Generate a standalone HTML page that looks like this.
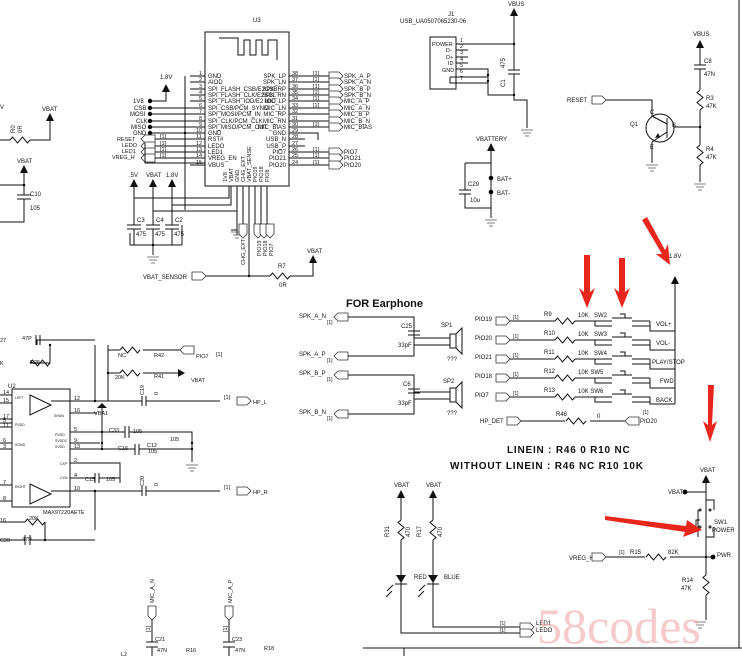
<!DOCTYPE html>
<html><head><meta charset="utf-8"><style>
html,body{margin:0;padding:0;background:#fff;}
svg{display:block;font-family:"Liberation Sans",sans-serif;font-size:6px;}
text{fill:#111;}
.l{stroke:#111;stroke-width:1;fill:none;}
.t{stroke:#333;stroke-width:.8;fill:#fff;}
.b{font-size:11px;font-weight:bold;}
.ar{fill:#e8261c;}
</style></head><body>
<svg width="742" height="656" viewBox="0 0 742 656" xmlns="http://www.w3.org/2000/svg">
<defs>
<path id="arr" d="M0 0 L-4 8 L4 8 Z" fill="#111"/>
<path id="gnd" d="M-6 0 H6 M-4 3 H4 M-2 6 H2" stroke="#555" stroke-width=".8" fill="none"/>
<path id="rh" d="M0 0 l2.5 -3 l5 6 l5 -6 l5 6 l2.5 -3" stroke="#111" fill="none"/>
<path id="rv" d="M0 0 l-3 2.5 l6 5 l-6 5 l6 5 l-3 2.5" stroke="#111" fill="none"/>
<path id="tagr" d="M0 -4 H10 L14 0 L10 4 H0 Z" class="t"/>
<path id="tagl" d="M14 -4 H4 L0 0 L4 4 H14 Z" class="t"/>
<path id="tagd" d="M-4 0 V10 L0 14 L4 10 V0 Z" class="t"/>
</defs>

<!-- top-left fragment -->
<text x="0" y="109">V</text>
<text x="42" y="111">VBAT</text><use href="#arr" x="50" y="113"/>
<path class="l" d="M0 140 H10 M30 140 H50 V121"/><use href="#rh" x="10" y="140"/>
<text x="15" y="133" transform="rotate(-90 15 133)">R0</text>
<text x="22" y="133" transform="rotate(-90 22 133)">0R</text>
<text x="17" y="163">VBAT</text><use href="#arr" x="24" y="165"/>
<path class="l" d="M24 173 V195 M17 195 H31 M17 199 H31 M24 199 V222 H0 M0 185 H24"/>
<circle cx="24" cy="185" r="1.3"/>
<text x="30" y="196">C10</text><text x="30" y="210">105</text>

<!-- U3 -->
<text x="253" y="22">U3</text>
<rect x="205" y="32" width="84" height="154" class="l"/>
<path class="l" d="M219 38 H238 V55 H244 V40 H250 V55 H256 V40 H262 V55 H268 V40 H277 V60"/>
<g>
<text x="208" y="78">GND</text><text x="208" y="84">AIOD</text>
<text x="208" y="91">SPI_FLASH_CSB/E2CSB</text><text x="208" y="97">SPI_FLASH_CLK/E2SCL</text>
<text x="208" y="103">SPI_FLASH_IOD/E2 IOD</text><text x="208" y="110">SPI_CSB/PCM_SYNC</text>
<text x="208" y="116">SPI_MOSI/PCM_IN</text><text x="208" y="123">SPI_CLK/PCM_CLK</text>
<text x="208" y="129">SPI_MISO/PCM_OUT</text><text x="208" y="135">GND</text>
<text x="208" y="141">RST#</text><text x="208" y="148">LEDO</text><text x="208" y="154">LED1</text>
<text x="208" y="160">VREG_EN</text><text x="208" y="167">VBUS</text>
<g text-anchor="end">
<text x="286" y="78">SPK_LP</text><text x="286" y="84">SPK_LN</text><text x="286" y="91">SPK_RP</text>
<text x="286" y="97">SPK_RN</text><text x="286" y="103">MIC_LP</text><text x="286" y="110">MIC_LN</text>
<text x="286" y="116">MIC_RP</text><text x="286" y="123">MIC_RN</text><text x="286" y="129">MIC_BIAS</text>
<text x="286" y="135">GND</text><text x="286" y="141">USB_N</text><text x="286" y="148">USB_P</text>
<text x="286" y="154">PIO7</text><text x="286" y="160">PIO21</text><text x="286" y="167">PIO20</text>
</g>
</g>
<path class="l" d="M190 76H205 M190 82H205 M190 89H205 M190 95H205 M190 101H205 M150 108H205 M150 114H205 M150 121H205 M150 127H205 M150 133H205 M190 139H205 M190 146H205 M190 152H205 M190 158H205 M190 165H205"/>
<g font-size="5.5"><text x="199" y="75">1</text><text x="199" y="81">2</text><text x="199" y="88">3</text><text x="199" y="94">4</text><text x="199" y="100">5</text><text x="199" y="107">6</text><text x="199" y="113">7</text><text x="199" y="120">8</text><text x="199" y="126">9</text><text x="196" y="132">10</text><text x="196" y="138">11</text><text x="196" y="145">12</text><text x="196" y="151">13</text><text x="196" y="157">14</text><text x="196" y="164">15</text></g>
<path class="l" d="M289 76H305 M289 82H305 M289 89H305 M289 95H305 M289 101H305 M289 108H305 M289 114H305 M289 121H305 M289 127H305 M289 133H305 M289 139H305 M289 146H305 M289 152H305 M289 158H305 M289 165H305"/>
<g font-size="5.5"><text x="292" y="75">38</text><text x="292" y="81">37</text><text x="292" y="88">36</text><text x="292" y="94">35</text><text x="292" y="100">34</text><text x="292" y="107">33</text><text x="292" y="113">32</text><text x="292" y="120">31</text><text x="292" y="126">30</text><text x="292" y="132">29</text><text x="292" y="138">28</text><text x="292" y="145">27</text><text x="292" y="151">26</text><text x="292" y="157">25</text><text x="292" y="164">24</text></g>
<path class="l" d="M305 76H330 M305 82H330 M305 89H330 M305 95H330 M305 101H330 M305 108H330 M305 114H330 M305 121H330 M305 127H330 M305 152H330 M305 158H330 M305 165H330 M305 133H318 V140"/>
<g font-size="5.5"><text x="313" y="75">[1]</text><text x="313" y="81">[1]</text><text x="313" y="88">[1]</text><text x="313" y="94">[1]</text><text x="313" y="100">[1]</text><text x="313" y="107">[1]</text><text x="313" y="126">[1]</text><text x="313" y="151">[1]</text><text x="313" y="157">[1]</text><text x="313" y="164">[1]</text></g>
<use href="#tagr" x="329" y="76"/><use href="#tagr" x="329" y="82"/><use href="#tagr" x="329" y="89"/><use href="#tagr" x="329" y="95"/><use href="#tagr" x="329" y="101"/><use href="#tagr" x="329" y="108"/><use href="#tagr" x="329" y="114"/><use href="#tagr" x="329" y="121"/><use href="#tagr" x="329" y="127"/><use href="#tagr" x="329" y="152"/><use href="#tagr" x="329" y="158"/><use href="#tagr" x="329" y="165"/>
<text x="344" y="78">SPK_A_P</text><text x="344" y="84">SPK_A_N</text><text x="344" y="91">SPK_B_P</text><text x="344" y="97">SPK_B_N</text><text x="344" y="103">MIC_A_P</text><text x="344" y="110">MIC_A_N</text><text x="344" y="116">MIC_B_P</text><text x="344" y="123">MIC_B_N</text><text x="344" y="129">MIC_BIAS</text>
<text x="344" y="154">PIO7</text><text x="344" y="160">PIO21</text><text x="344" y="167">PIO20</text>
<!-- left nets -->
<text x="160" y="79">1.8V</text><use href="#arr" x="166" y="84"/>
<path class="l" d="M166 92 V101 H150 M185 76 V210"/>
<circle cx="185" cy="133" r="1.2"/>
<g font-size="6"><text x="133" y="103">1V8</text><text x="134" y="110">CSB</text><text x="130" y="116">MOSI</text><text x="136" y="123">CLK</text><text x="131" y="129">MISO</text><text x="133" y="135">GND</text></g>
<circle cx="150" cy="101" r="2.2"/><circle cx="150" cy="108" r="2.2"/><circle cx="150" cy="114" r="2.2"/><circle cx="150" cy="121" r="2.2"/><circle cx="150" cy="127" r="2.2"/><circle cx="150" cy="133" r="2.2"/>
<g font-size="5.5"><text x="117" y="141">RESET</text><text x="122" y="147">LEDO</text><text x="122" y="153">LED1</text><text x="112" y="159">VREG_H</text></g>
<use href="#tagl" x="141" y="139"/><use href="#tagl" x="141" y="146"/><use href="#tagl" x="141" y="152"/><use href="#tagl" x="141" y="158"/>
<path class="l" d="M155 139H190 M155 146H190 M155 152H190 M155 158H190 M145 143 V163 H205"/>
<g font-size="5.5"><text x="160" y="138">[1]</text><text x="160" y="145">[1]</text><text x="160" y="151">[1]</text><text x="160" y="157">[1]</text></g>
<!-- caps -->
<text x="129" y="177">.5V</text><text x="146" y="177">VBAT</text><text x="166" y="177">1.8V</text>
<use href="#arr" x="134" y="179"/><use href="#arr" x="153" y="179"/><use href="#arr" x="172" y="179"/>
<path class="l" d="M134 187V225 M153 187V225 M172 187V225 M134 198H229 V186 M172 205H231V186 M153 211H237V186 M127 225H141 M146 225H160 M165 225H179 M127 229H141 M146 229H160 M165 229H179 M134 229V245 M153 229V255 M172 229V245 M130 245H182 M130 233V245 M182 225V245"/>
<text x="137" y="222">C3</text><text x="156" y="222">C4</text><text x="175" y="222">C2</text>
<text x="136" y="236">475</text><text x="155" y="236">475</text><text x="174" y="236">475</text>
<circle cx="153" cy="245" r="1.2"/><use href="#gnd" x="153" y="257"/>
<!-- bottom pins -->
<g font-size="5.5">
<text x="227" y="182" transform="rotate(-90 227 182)">1V8</text><text x="233" y="182" transform="rotate(-90 233 182)">VBAT</text><text x="239" y="182" transform="rotate(-90 239 182)">GND</text><text x="245" y="182" transform="rotate(-90 245 182)">CHG_EXT</text><text x="251" y="182" transform="rotate(-90 251 182)">VBAT_SENSE</text><text x="257" y="182" transform="rotate(-90 257 182)">PIO19</text><text x="263" y="182" transform="rotate(-90 263 182)">PIO18</text><text x="269" y="182" transform="rotate(-90 269 182)">PIO8</text>
</g>
<path class="l" d="M237 186V235 M243 186V230 M249 186V276 M255 186V225 M261 186V225 M267 186V225 M231 230 H237"/>
<use href="#gnd" x="237" y="232"/>
<use href="#tagd" x="243" y="224"/><use href="#tagd" x="258" y="224"/><use href="#tagd" x="264" y="224"/><use href="#tagd" x="270" y="224"/>
<g font-size="5.5"><text x="245" y="265" transform="rotate(-90 245 265)">CHG_EXT</text><text x="261" y="256" transform="rotate(-90 261 256)">PIO19</text><text x="267" y="256" transform="rotate(-90 267 256)">PIO18</text><text x="273" y="256" transform="rotate(-90 273 256)">PIO7</text></g>
<text x="143" y="279">VBAT_SENSOR</text><use href="#tagr" x="192" y="276"/>
<path class="l" d="M206 276H270 M290 276H313 V263"/><use href="#rh" x="270" y="276"/>
<circle cx="249" cy="276" r="1.2"/>
<text x="278" y="268">R7</text><text x="279" y="287">0R</text>
<text x="307" y="253">VBAT</text><use href="#arr" x="313" y="255"/>

<!-- USB J1 -->
<text x="448" y="16">J1</text><text x="400" y="23">USB_UA0507065230-06</text>
<rect x="430" y="37" width="26" height="52" class="l"/>
<g font-size="5.5"><text x="432" y="46">POWER</text><text x="446" y="52">D-</text><text x="446" y="59">D+</text><text x="448" y="65">ID</text><text x="442" y="72">GND</text></g>
<g font-size="5.5"><text x="460" y="42">1</text><text x="460" y="48">2</text><text x="460" y="54">3</text><text x="460" y="61">4</text><text x="460" y="67">5</text><text x="460" y="73">6</text><text x="460" y="80">7</text></g>
<path class="l" d="M456 44H514 M456 50H468 M456 57H468 M456 63H468 M456 69H488 V95 H514 M450 77H488 M450 77V83H488 V75 M514 12V70 M508 70H520 M508 74H520 M514 74V100 H527 V128"/>
<circle cx="514" cy="44" r="1.2"/><circle cx="514" cy="95" r="1.2"/><circle cx="488" cy="75" r="1.2"/><circle cx="488" cy="81" r="1.2"/>
<text x="508" y="6">VBUS</text><use href="#arr" x="514" y="8"/>
<text x="505" y="68" transform="rotate(-90 505 68)">475</text><text x="505" y="87" transform="rotate(-90 505 87)">C1</text>
<use href="#gnd" x="527" y="130"/>
<!-- battery -->
<text x="476" y="141">VBATTERY</text><use href="#arr" x="491" y="143"/>
<path class="l" d="M491 151V208 M465 163H491 M465 163V190 M459 190H471 M459 194H471 M465 194V208H491 M491 208V218"/>
<circle cx="491" cy="178" r="2.3"/><circle cx="491" cy="192" r="2.3"/>
<text x="497" y="181">BAT+</text><text x="497" y="195">BAT-</text>
<text x="468" y="186">C29</text><text x="470" y="202">10u</text>
<use href="#gnd" x="491" y="220"/>
<!-- Q1 -->
<text x="567" y="102">RESET</text><use href="#tagr" x="592" y="100"/>
<path class="l" d="M606 100H652 V116 M652 142V163 M674 127H700 M700 48V65 M694 65H706 M694 69H706 M700 69V90 M700 110V145 M700 165V182"/>
<use href="#rv" x="700" y="90"/><use href="#rv" x="700" y="145"/>
<circle cx="660" cy="128" r="14" class="l"/>
<path class="l" d="M667 118V138 M667 124L652 116 M667 132L652 142"/>
<path d="M655 138 L660 137 L658 133Z" fill="#111"/>
<text x="650" y="114">C</text><text x="650" y="149">E</text><text x="672" y="127">B</text><text x="630" y="126">Q1</text>
<text x="693" y="36">VBUS</text><use href="#arr" x="700" y="40"/>
<text x="704" y="63">C8</text><text x="704" y="76">47N</text><text x="706" y="100">R3</text><text x="706" y="108">47K</text><text x="706" y="151">R4</text><text x="706" y="159">47K</text>
<circle cx="700" cy="127" r="1.2"/>
<use href="#gnd" x="652" y="165"/><use href="#gnd" x="700" y="184"/>

<!-- border -->
<path class="l" d="M739 0V648 M363 648H742 M404 648V656"/>

<!-- earphone -->
<text x="346" y="307" class="b">FOR Earphone</text>
<text x="299" y="318">SPK_A_N</text><text x="327" y="324" font-size="5">[1]</text><use href="#tagl" x="334" y="317"/>
<text x="299" y="356">SPK_A_P</text><text x="327" y="362" font-size="5">[1]</text><use href="#tagl" x="334" y="356"/>
<text x="299" y="375">SPK_B_P</text><text x="327" y="381" font-size="5">[1]</text><use href="#tagl" x="334" y="375"/>
<text x="299" y="414">SPK_B_N</text><text x="327" y="420" font-size="5">[1]</text><use href="#tagl" x="334" y="414"/>
<path class="l" d="M348 317H414 V338H450 M348 356H414 V345H450 M414 317V331 M408 331H420 M408 335H420 M414 335V356 M348 375H414 V392H450 M348 414H414 V399H450 M414 375V389 M408 389H420 M408 393H420 M414 393V414"/>
<rect x="450" y="334" width="6" height="14" class="l"/><path class="l" d="M456 334 L462 328 V354 L456 348"/>
<rect x="450" y="388" width="6" height="14" class="l"/><path class="l" d="M456 388 L462 382 V408 L456 402"/>
<text x="401" y="328">C25</text><text x="398" y="347">33pF</text><text x="441" y="327">SP1</text><text x="447" y="361">???</text>
<text x="403" y="386">C6</text><text x="398" y="405">33pF</text><text x="443" y="383">SP2</text><text x="447" y="415">???</text>

<!-- buttons -->
<text x="669" y="258">1.8V</text><use href="#arr" x="675" y="276"/>
<g>
<text x="475" y="321">PIO19</text><use href="#tagr" x="496" y="321"/><text x="513" y="319" font-size="5">[1]</text><text x="544" y="316">R9</text><text x="578" y="317">10K</text><text x="594" y="317">SW2</text><text x="656" y="326">VOL+</text>
<text x="475" y="340">PIO20</text><use href="#tagr" x="496" y="340"/><text x="513" y="338" font-size="5">[1]</text><text x="544" y="335">R10</text><text x="578" y="336">10K</text><text x="594" y="336">SW3</text><text x="656" y="345">VOL-</text>
<text x="475" y="359">PIO21</text><use href="#tagr" x="496" y="359"/><text x="513" y="357" font-size="5">[1]</text><text x="544" y="354">R11</text><text x="578" y="355">10K</text><text x="594" y="355">SW4</text><text x="652" y="364">PLAY/STOP</text>
<text x="475" y="378">PIO18</text><use href="#tagr" x="496" y="378"/><text x="513" y="376" font-size="5">[1]</text><text x="544" y="373">R12</text><text x="578" y="374">10K SW5</text><text x="660" y="383">FWD</text>
<text x="475" y="397">PIO7</text><use href="#tagr" x="496" y="397"/><text x="513" y="395" font-size="5">[1]</text><text x="544" y="392">R13</text><text x="578" y="393">10K SW6</text><text x="656" y="402">BACK</text>
</g>
<path class="l" d="M510 321H555 M575 321H595 M510 340H555 M575 340H595 M510 359H555 M575 359H595 M510 378H555 M575 378H595 M510 397H555 M575 397H595"/>
<use href="#rh" x="555" y="321"/><use href="#rh" x="555" y="340"/><use href="#rh" x="555" y="359"/><use href="#rh" x="555" y="378"/><use href="#rh" x="555" y="397"/>
<g class="l" stroke-width=".8">
<path d="M595 321H612 M595 321V326H612 M632 321H650 M632 326H650 M650 321V331 H675 M612 318H632 M620 314H625V318"/>
<path d="M595 340H612 M595 340V345H612 M632 340H650 M632 345H650 M650 340V350 H675 M612 337H632 M620 333H625V337"/>
<path d="M595 359H612 M595 359V364H612 M632 359H650 M632 364H650 M650 359V369 H675 M612 356H632 M620 352H625V356"/>
<path d="M595 378H612 M595 378V383H612 M632 378H650 M632 383H650 M650 378V388 H675 M612 375H632 M620 371H625V375"/>
<path d="M595 397H612 M595 397V402H612 M632 397H650 M632 402H650 M650 397V404 H675"/>
<path d="M612 394H632 M620 390H625V394"/>
</g>
<path class="l" d="M675 284V404"/>
<text x="480" y="423">HP_DET</text><use href="#tagr" x="507" y="421"/>
<path class="l" d="M521 421H565 M590 421H625"/><use href="#rh" x="566" y="421"/>
<text x="556" y="416">R46</text><text x="597" y="418">0</text><use href="#tagl" x="625" y="421"/><text x="643" y="414" font-size="5">[1]</text><text x="640" y="423">PIO20</text>
<text x="507" y="453" class="b" style="font-size:10px" letter-spacing=".8">LINEIN : R46 0 R10 NC</text>
<text x="450" y="469" class="b" style="font-size:10px" letter-spacing=".8">WITHOUT LINEIN : R46 NC R10 10K</text>

<!-- power switch -->
<text x="700" y="472">VBAT</text><use href="#arr" x="706" y="475"/>
<text x="668" y="494">VBAT</text><circle cx="685" cy="492" r="2.4"/>
<path class="l" d="M685 492H706 M706 483V500 H714 V510 M706 500V537 M706 537H714V527 M698 510V537 M700 520H696V528H700 M706 557V575 M706 595V620 M606 557H645 M670 557H715 M706 537V557"/>
<circle cx="700" cy="510" r="1" class="l"/><circle cx="710" cy="510" r="1" class="l"/><circle cx="700" cy="527" r="1" class="l"/><circle cx="710" cy="527" r="1" class="l"/>
<text x="714" y="524">SW1</text><text x="712" y="532">POWER</text>
<text x="569" y="560">VREG_H</text><use href="#tagr" x="592" y="557"/><text x="619" y="554" font-size="5">[1]</text><text x="630" y="554">R15</text><text x="668" y="554">82K</text>
<use href="#rh" x="646" y="557"/><circle cx="706" cy="557" r="1.2"/><circle cx="713" cy="557" r="2.4"/><text x="717" y="557">PWR</text>
<use href="#rv" x="706" y="575"/><text x="682" y="582">R14</text><text x="681" y="590">47K</text>
<use href="#gnd" x="700" y="622"/>

<!-- LEDs -->
<text x="394" y="487">VBAT</text><text x="426" y="487">VBAT</text>
<use href="#arr" x="401" y="490"/><use href="#arr" x="433" y="490"/>
<path class="l" d="M401 498V520 M401 540V633 H520 M433 498V520 M433 540V627 H520"/>
<use href="#rv" x="401" y="520"/><use href="#rv" x="433" y="520"/>
<path d="M396 575H406L401 583Z M428 575H438L433 583Z" fill="#111"/><path class="l" d="M395 584H407 M427 584H439"/>
<path class="l" d="M393 585 L387 591 M392 591 L386 597 M425 585 L419 591 M424 591 L418 597" stroke-width=".8"/>
<text x="389" y="537" transform="rotate(-90 389 537)">R31</text><text x="410" y="537" transform="rotate(-90 410 537)">470</text>
<text x="421" y="537" transform="rotate(-90 421 537)">R17</text><text x="442" y="537" transform="rotate(-90 442 537)">470</text>
<text x="414" y="579">RED</text><text x="444" y="579">BLUE</text>
<use href="#tagr" x="520" y="627"/><use href="#tagr" x="520" y="633"/>
<text x="500" y="625" font-size="5">[1]</text><text x="500" y="632" font-size="5">[1]</text>
<text x="536" y="625">LED1</text><text x="536" y="632">LEDO</text>

<!-- amp U2 -->
<text x="8" y="388">U2</text>
<rect x="12" y="389" width="58" height="118" class="l"/>
<path class="l" d="M30 395 L51 405 L30 415Z M30 484 L51 494 L30 504Z"/>
<path class="l" d="M0 395H12 M0 403H12 M0 419H12 M0 423H12 M0 427H12 M0 443H12 M0 449H12 M0 485H12 M0 501H12"/>
<g font-size="5.5"><text x="3" y="394">14</text><text x="3" y="402">15</text><text x="3" y="418">17</text><text x="3" y="422">5</text><text x="3" y="427">11</text><text x="3" y="442">6</text><text x="3" y="448">3</text><text x="3" y="484">7</text><text x="3" y="500">8</text></g>
<g font-size="3.5" fill="#555"><text x="15" y="399">LEFT</text><text x="15" y="426">PVDD</text><text x="15" y="446">SGND</text><text x="15" y="488">RIGHT</text><text x="54" y="417">SHDN</text><text x="55" y="436">PVDD</text><text x="55" y="442">SVDD2</text><text x="55" y="448">SVDD</text><text x="60" y="465">CXP</text><text x="60" y="479">CXN</text></g>
<path class="l" d="M51 401H80 M70 413H80 M70 432H80 M70 443H80 M70 449H80 M70 463H80 M70 478H80 M51 491H80"/>
<g font-size="5.5"><text x="74" y="400">12</text><text x="74" y="412">16</text><text x="74" y="431">5</text><text x="74" y="442">9</text><text x="74" y="448">13</text><text x="74" y="462">2</text><text x="74" y="477">4</text><text x="74" y="490">10</text></g>
<path class="l" d="M80 401H142 M146 401H220 M80 413H97 M80 432H125 M80 443H100 M80 449H135 M139 449H192 M129 432H192 V449 M80 463H120 V483 M80 478H95 M99 478H120 M80 491H142 M146 491H220 M95 345V401 M50 340H36 M40 340H95 M50 363H30 M37 340V345 M108 345V401 M108 350H120 M143 350H168 M108 373H120 M143 373H168 M95 491V530 M0 522H25 M0 540H25 M30 540H95 M45 522V540"/>
<path class="l" d="M142 396V406 M146 396V406 M142 486V496 M146 486V496 M125 426V438 M129 426V438 M135 444V455 M139 444V455 M95 473V483 M99 473V483 M36 335V345 M40 335V345 M25 535V545 M30 535V545 M192 449V462"/>
<use href="#rh" x="30" y="363"/><use href="#rh" x="120" y="350"/><use href="#rh" x="120" y="373"/><use href="#rh" x="25" y="522"/>
<path class="l" d="M50 363V345"/>
<circle cx="95" cy="401" r="1.2"/><circle cx="108" cy="373" r="1.2"/><circle cx="50" cy="345" r="1.2"/><circle cx="102" cy="432" r="1.2"/><circle cx="102" cy="443" r="1.2"/><circle cx="102" cy="449" r="1.2"/><circle cx="192" cy="443" r="1.2"/><circle cx="192" cy="449" r="1.2"/><circle cx="95" cy="491" r="1.2"/><circle cx="45" cy="540" r="1.2"/>
<path d="M97 408H107L102 403Z" fill="#111"/><path class="l" d="M102 408V449"/>
<use href="#gnd" x="192" y="465"/>
<g font-size="5.5">
<text x="0" y="342">27</text><text x="22" y="340">47P</text><text x="0" y="365">K</text><text x="30" y="364">R25</text>
<text x="118" y="357">NC</text><text x="154" y="357">R42</text><text x="115" y="379">20K</text><text x="154" y="378">R41</text>
<text x="94" y="415">VBA1</text><text x="109" y="432">C33</text><text x="133" y="433">105</text><text x="118" y="450">C16</text><text x="147" y="447">C12</text><text x="148" y="453">105</text><text x="170" y="441">105</text>
<text x="85" y="481">C15</text><text x="106" y="481">105</text><text x="43" y="514">MAX97220AETE</text>
<text x="0" y="522">16</text><text x="29" y="520">20K</text><text x="0" y="542">C28</text><text x="22" y="541">47P</text>
<text x="144" y="395" transform="rotate(-90 144 395)">C19</text><text x="158" y="395" transform="rotate(-90 158 395)">0</text>
<text x="144" y="486" transform="rotate(-90 144 486)">C20</text><text x="158" y="486" transform="rotate(-90 158 486)">0</text>
<text x="224" y="399">[1]</text><text x="224" y="489">[1]</text><text x="253" y="404">HP_L</text><text x="253" y="494">HP_R</text>
<text x="196" y="358">PIO7</text><text x="216" y="356">[1]</text><text x="191" y="382">VBAT</text>
</g>
<path class="l" d="M168 350H180 M168 373H178"/>
<use href="#tagl" x="180" y="350"/><path d="M178 369V377L185 373Z" fill="#111"/>
<use href="#tagr" x="237" y="401"/><use href="#tagr" x="237" y="491"/>

<!-- mic -->
<g font-size="5.5">
<text x="154" y="603" transform="rotate(-90 154 603)">MIC_A_N</text><text x="232" y="603" transform="rotate(-90 232 603)">MIC_A_P</text>
<text x="150" y="632" transform="rotate(-90 150 632)">[1]</text><text x="227" y="632" transform="rotate(-90 227 632)">[1]</text>
<text x="155" y="641">C21</text><text x="232" y="641">C23</text><text x="157" y="652">47N</text><text x="235" y="652">47N</text>
<text x="186" y="652">R16</text><text x="264" y="650">R18</text><text x="121" y="656">L2</text>
</g>
<path class="l" d="M152 620V642 M229 620V642 M146 642H158 M146 647H158 M223 642H235 M223 647H235 M152 647V656 M229 647V656"/>
<use href="#tagd" x="152" y="606"/><use href="#tagd" x="229" y="606"/>

<!-- red arrows -->
<path class="ar" d="M584 255 L590 255 L590 292 L595 288 L587 308 L579 288 L584 292Z"/>
<path class="ar" d="M619 258 L625 258 L625 292 L630 288 L622 308 L614 288 L619 292Z"/>
<path class="ar" d="M642 220 L647 217 L665 250 L668 244 L670 265 L656 254 L662 254Z"/>
<path class="ar" d="M708 385 L714 385 L712 425 L717 421 L710 442 L703 421 L708 425Z"/>
<path class="ar" d="M605 516 L605 520 L685 532 L683 537 L702 530 L687 520 L686 526Z"/>

<!-- watermark -->
<text x="537" y="643" style="font-family:'Liberation Serif',serif;font-size:50px;fill:#f2b4b4;opacity:.7">58codes</text>
</svg>
</body></html>
